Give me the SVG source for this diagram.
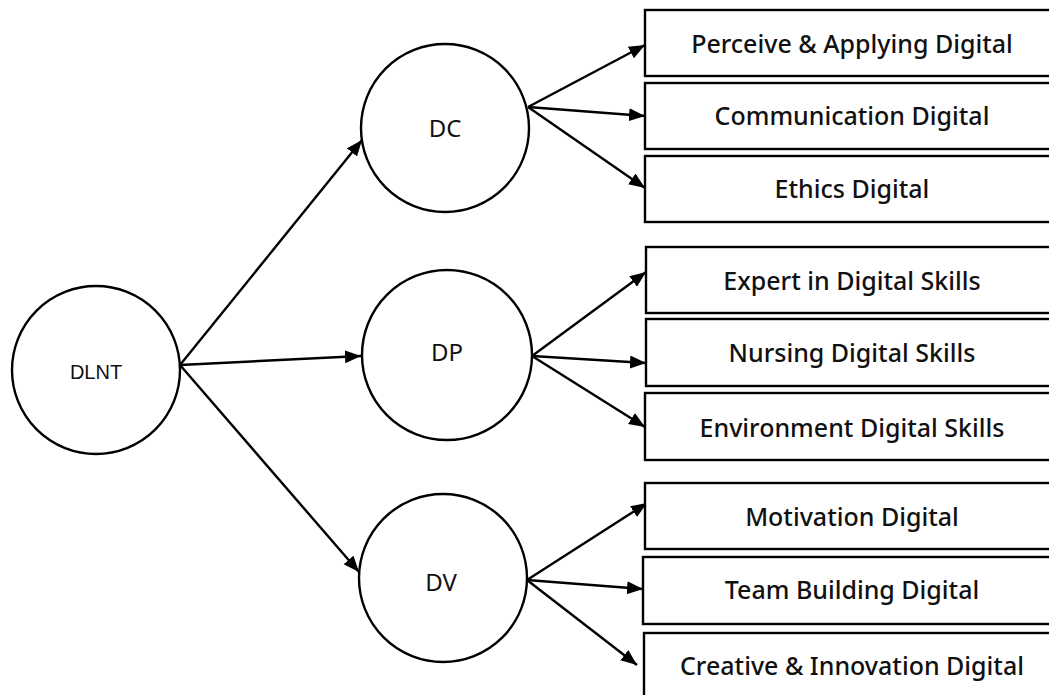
<svg xmlns="http://www.w3.org/2000/svg" width="1049" height="695" viewBox="0 0 1049 695">
<style>
.c{fill:#fff;stroke:#000;stroke-width:2.4}
.b{fill:#fff;stroke:#000;stroke-width:2.4}
.bt{font-family:"Noto Sans",sans-serif;font-size:25px;font-weight:500;fill:#111;text-anchor:middle}
.ct{font-family:"Noto Sans",sans-serif;font-size:24px;fill:#111;text-anchor:middle}
.rt{font-family:"Liberation Sans",Arial,sans-serif;font-size:20px;fill:#111;text-anchor:middle}
.e{fill:none;stroke:#000;stroke-width:2.4}
</style>
<defs>
<marker id="ah" markerUnits="userSpaceOnUse" markerWidth="18" markerHeight="14" refX="16" refY="6.5" orient="auto">
<path d="M0,0 L16,6.5 L0,13 z" fill="#000"/>
</marker>
</defs>
<rect width="1049" height="695" fill="#fff"/>
<g id="connectors">
<line class="e" x1="180" y1="365" x2="362" y2="140" marker-end="url(#ah)"/>
<line class="e" x1="180" y1="365" x2="361" y2="356" marker-end="url(#ah)"/>
<line class="e" x1="180" y1="365" x2="359" y2="572" marker-end="url(#ah)"/>
<line class="e" x1="528" y1="107" x2="645" y2="45" marker-end="url(#ah)"/>
<line class="e" x1="528" y1="107" x2="645" y2="116" marker-end="url(#ah)"/>
<line class="e" x1="528" y1="107" x2="645" y2="188" marker-end="url(#ah)"/>
<line class="e" x1="532" y1="356" x2="646" y2="272" marker-end="url(#ah)"/>
<line class="e" x1="532" y1="356" x2="646" y2="363" marker-end="url(#ah)"/>
<line class="e" x1="532" y1="356" x2="645" y2="427" marker-end="url(#ah)"/>
<line class="e" x1="527" y1="580" x2="647" y2="503" marker-end="url(#ah)"/>
<line class="e" x1="527" y1="580" x2="643" y2="589" marker-end="url(#ah)"/>
<line class="e" x1="527" y1="580" x2="637" y2="665" marker-end="url(#ah)"/>
</g>
<g id="DLNT"><circle class="c" cx="96" cy="370" r="84"/><text class="rt" x="96" y="379">DLNT</text></g>
<g id="DC"><circle class="c" cx="445" cy="128" r="84"/><text class="ct" x="445" y="137">DC</text></g>
<g id="DP"><circle class="c" cx="447" cy="355" r="85"/><text class="ct" x="447" y="361">DP</text></g>
<g id="DV"><circle class="c" cx="443" cy="578" r="84"/><text class="ct" x="441" y="591">DV</text></g>
<g id="box1"><rect class="b" x="645" y="10" width="420" height="66"/><text class="bt" x="852" y="53">Perceive &amp; Applying Digital</text></g>
<g id="box2"><rect class="b" x="645" y="83" width="420" height="66"/><text class="bt" x="852" y="125">Communication Digital</text></g>
<g id="box3"><rect class="b" x="645" y="156" width="420" height="66"/><text class="bt" x="852" y="198">Ethics Digital</text></g>
<g id="box4"><rect class="b" x="646" y="247" width="420" height="66"/><text class="bt" x="852" y="290">Expert in Digital Skills</text></g>
<g id="box5"><rect class="b" x="646" y="319" width="420" height="67"/><text class="bt" x="852" y="362">Nursing Digital Skills</text></g>
<g id="box6"><rect class="b" x="645" y="393" width="420" height="67"/><text class="bt" x="852" y="437">Environment Digital Skills</text></g>
<g id="box7"><rect class="b" x="645" y="483" width="420" height="66"/><text class="bt" x="852" y="526">Motivation Digital</text></g>
<g id="box8"><rect class="b" x="643" y="557" width="420" height="67"/><text class="bt" x="852" y="599">Team Building Digital</text></g>
<g id="box9"><rect class="b" x="644" y="633" width="420" height="66"/><text class="bt" x="852" y="675">Creative &amp; Innovation Digital</text></g>
</svg>
